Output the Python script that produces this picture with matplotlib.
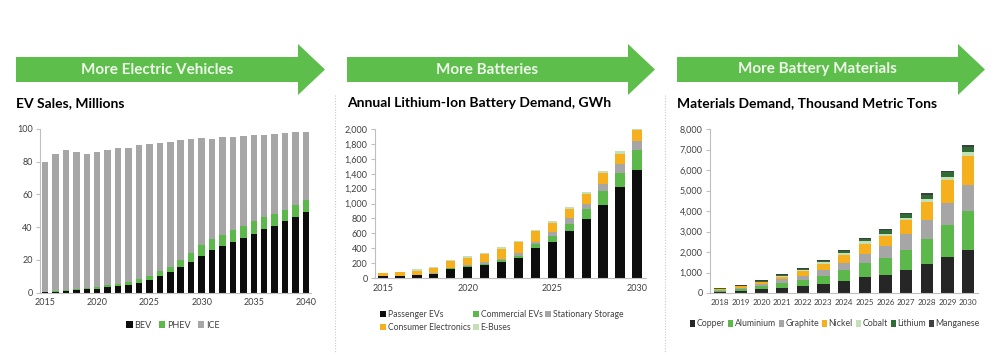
import numpy as np
import matplotlib
matplotlib.use('Agg')
import matplotlib.pyplot as plt
from matplotlib.patches import Polygon

plt.rcParams['font.family'] = ['Lato', 'DejaVu Sans']

# --- panel 1: EV sales, millions
ev_years = list(range(2015, 2041))
bev = [0.2, 0.4, 1.2, 1.8, 2.5, 2.5, 3.2, 3.8, 4.8, 6.0, 7.5, 10.0, 12.5,
       15.5, 18.5, 22.5, 26.0, 28.5, 31.0, 33.5, 36.0, 39.0, 41.0, 43.5, 46.5, 49.5]
phev = [0.1, 0.4, 0.3, 0.5, 0.5, 1.0, 1.3, 1.7, 1.7, 2.5, 3.0, 3.0, 3.5,
        4.5, 5.5, 6.5, 6.5, 7.0, 7.0, 7.0, 7.5, 7.0, 7.0, 7.0, 7.0, 7.0]
ev_total = [80.0, 84.7, 87.2, 86.2, 84.7, 86.2, 87.2, 88.2, 88.6, 90.2, 90.6, 91.2, 92.0,
            93.0, 93.9, 94.5, 93.9, 95.1, 95.1, 95.5, 96.1, 96.1, 96.7, 97.6, 98.4, 98.4]
ice = [t - b - p for t, b, p in zip(ev_total, bev, phev)]

# --- panel 2: annual Li-ion battery demand, GWh
bat_years = list(range(2015, 2031))
passenger = [22, 30, 35, 55, 125, 150, 180, 220, 275, 400, 480, 630, 795, 985, 1220, 1445]
commercial = [0, 1, 2, 3, 5, 8, 12, 18, 25, 60, 90, 100, 135, 180, 190, 270]
stationary = [0, 2, 3, 5, 10, 15, 18, 22, 35, 25, 45, 80, 70, 95, 125, 120]
consumer = [40, 42, 55, 65, 90, 100, 110, 130, 145, 140, 125, 120, 130, 145, 135, 145]
ebuses = [5, 5, 25, 15, 15, 17, 15, 20, 20, 22, 27, 29, 30, 31, 34, 15]

# --- panel 3: materials demand, thousand metric tons
mat_years = list(range(2018, 2031))
copper = [50, 110, 190, 260, 320, 450, 580, 770, 900, 1120, 1410, 1760, 2120]
aluminium = [60, 80, 150, 250, 320, 400, 560, 700, 810, 1000, 1240, 1550, 1870]
graphite = [50, 70, 110, 170, 200, 250, 330, 430, 590, 750, 900, 1100, 1300]
nickel = [30, 60, 70, 120, 240, 330, 380, 510, 470, 710, 880, 1120, 1390]
cobalt = [20, 20, 30, 40, 50, 70, 80, 120, 120, 80, 140, 150, 200]
lithium = [20, 20, 50, 50, 45, 70, 110, 110, 180, 190, 200, 200, 250]
manganese = [15, 15, 20, 20, 25, 30, 45, 50, 75, 75, 100, 80, 100]

BLACK = "#0d0d0d"
GREEN = "#5cb84a"
GRAY = "#a6a6a6"
ORANGE = "#f6b01e"
LIGHTGREEN = "#c5e0b4"
DARKGREEN = "#2f6b35"
DARKGRAY = "#3f3f3f"
ARROW = "#5dbe4b"
TXT = "#404040"

W, H = 1000, 355
fig = plt.figure(figsize=(10, 3.55), dpi=100)
fig.patch.set_facecolor("white")


def px_axes(x0, x1, ytop, ybot):
    return fig.add_axes([x0 / W, 1 - ybot / H, (x1 - x0) / W, (ybot - ytop) / H])


def arrow(x0, x1, label):
    body_top, body_bot = 57, 82
    head_top, head_bot = 44, 95
    xh = x1 - 27
    ym = (body_top + body_bot) / 2
    pts = [(x0, body_top), (xh, body_top), (xh, head_top), (x1, ym),
           (xh, head_bot), (xh, body_bot), (x0, body_bot)]
    pts = [(x / W, 1 - y / H) for x, y in pts]
    fig.patches.append(Polygon(pts, closed=True, transform=fig.transFigure,
                               facecolor=ARROW, edgecolor="none"))
    fig.text(((x0 + xh) / 2) / W, 1 - ym / H, label, ha="center", va="center",
             color="#eef7ea", fontsize=11, fontweight="bold")


def style(ax, xsize=6.5):
    for s in ("top", "right"):
        ax.spines[s].set_visible(False)
    for s in ("left", "bottom"):
        ax.spines[s].set_color("#bfbfbf")
        ax.spines[s].set_linewidth(0.8)
    ax.tick_params(axis="y", length=3, color="#bfbfbf", labelsize=6.5,
                   labelcolor=TXT, pad=2)
    ax.tick_params(axis="x", length=0, labelsize=xsize, labelcolor=TXT, pad=4)
    ax.set_facecolor("white")


def stack(ax, x, series, colors, labels, width):
    bottom = np.zeros(len(x))
    for vals, c, lab in zip(series, colors, labels):
        ax.bar(x, vals, width, bottom=bottom, color=c, label=lab, linewidth=0)
        bottom += np.array(vals, dtype=float)


# arrows and titles
arrow(16, 325, "More Electric Vehicles")
arrow(347, 655, "More Batteries")
arrow(677, 985, "More Battery Materials")
fig.text(16 / W, 1 - 103 / H, "EV Sales, Millions", fontsize=10, fontweight="bold",
         va="center", color="black")
fig.text(347 / W, 1 - 103 / H, "Annual Lithium-Ion Battery Demand, GWh", fontsize=10,
         fontweight="bold", va="center", color="black")
fig.text(677 / W, 1 - 103 / H, "Materials Demand, Thousand Metric Tons", fontsize=10,
         fontweight="bold", va="center", color="black")

# dotted separators
for xs in (335, 665):
    fig.add_artist(plt.Line2D([xs / W, xs / W], [1 - 95 / H, 1 - 352 / H],
                              transform=fig.transFigure, color="#c8c8c8",
                              linestyle=(0, (1, 1.5)), linewidth=0.8))

# panel 1
ax1 = px_axes(39.8, 311.2, 129, 292.7)
stack(ax1, ev_years, [bev, phev, ice], [BLACK, GREEN, GRAY], ["BEV", "PHEV", "ICE"], 0.62)
ax1.set_xlim(2014.5, 2040.5)
ax1.set_ylim(0, 100)
ax1.set_yticks([0, 20, 40, 60, 80, 100])
ax1.set_xticks([2015, 2020, 2025, 2030, 2035, 2040])
style(ax1)
ax1.legend(loc="center", bbox_to_anchor=(173 / W, 1 - 325 / H),
           bbox_transform=fig.transFigure, ncol=3, frameon=False, fontsize=6.5,
           handlelength=0.7, handleheight=0.7, handletextpad=0.2, columnspacing=0.8,
           labelcolor=TXT)

# panel 2
ax2 = px_axes(374.5, 645.5, 129, 278)
stack(ax2, bat_years, [passenger, commercial, stationary, consumer, ebuses],
      [BLACK, GREEN, GRAY, ORANGE, LIGHTGREEN],
      ["Passenger EVs", "Commercial EVs", "Stationary Storage",
       "Consumer Electronics", "E-Buses"], 0.55)
ax2.set_xlim(2014.5, 2030.5)
ax2.set_ylim(0, 2000)
ax2.set_yticks(range(0, 2001, 200))
ax2.set_yticklabels([f"{v:,}" for v in range(0, 2001, 200)])
ax2.set_xticks([2015, 2020, 2025, 2030])
style(ax2)
h, l = ax2.get_legend_handles_labels()
order = [0, 3, 1, 4, 2]  # fill rows: legend fills column by column
ax2.legend([h[i] for i in order], [l[i] for i in order],
           loc="upper left", bbox_to_anchor=(372 / W, 1 - 302 / H),
           bbox_transform=fig.transFigure, ncol=3, frameon=False, fontsize=6.2,
           handlelength=0.7, handleheight=0.7, handletextpad=0.2, columnspacing=0.3,
           labelspacing=0.5, labelcolor=TXT)

# panel 3
ax3 = px_axes(709.7, 978.4, 129, 293)
stack(ax3, mat_years, [copper, aluminium, graphite, nickel, cobalt, lithium, manganese],
      ["#262626", GREEN, GRAY, ORANGE, LIGHTGREEN, DARKGREEN, DARKGRAY],
      ["Copper", "Aluminium", "Graphite", "Nickel", "Cobalt", "Lithium", "Manganese"], 0.6)
ax3.set_xlim(2017.5, 2030.5)
ax3.set_ylim(0, 8000)
ax3.set_yticks(range(0, 8001, 1000))
ax3.set_yticklabels([f"{v:,}" for v in range(0, 8001, 1000)])
ax3.set_xticks(mat_years)
style(ax3, xsize=5.8)
ax3.legend(loc="center", bbox_to_anchor=(835 / W, 1 - 324 / H),
           bbox_transform=fig.transFigure, ncol=7, frameon=False, fontsize=6.3,
           handlelength=0.6, handleheight=0.7, handletextpad=0.15, columnspacing=0.35,
           labelcolor=TXT)

fig.savefig("out.png", dpi=100, facecolor="white")
